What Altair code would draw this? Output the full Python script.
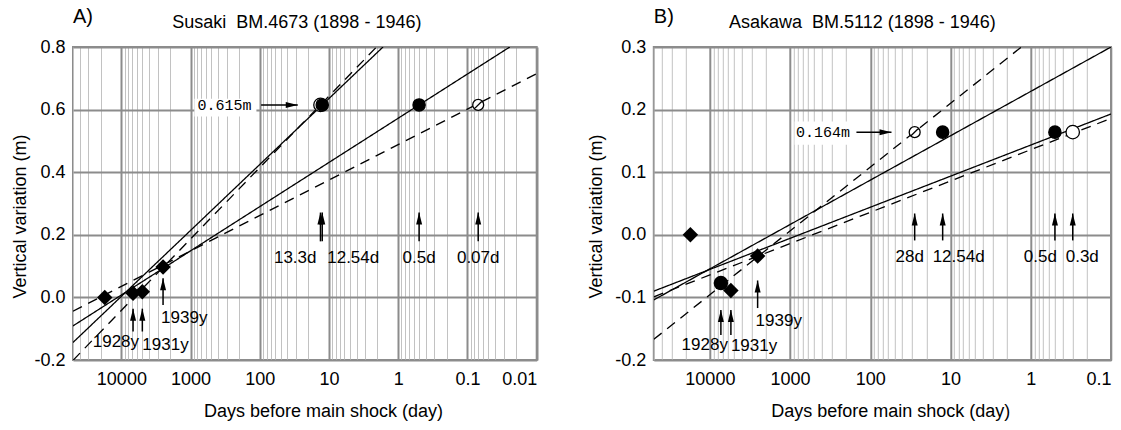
import altair as alt
import pandas as pd

FONT = "'Liberation Sans Narrow', 'Arial Narrow', 'Liberation Sans', sans-serif"
MONO = "'Liberation Mono', 'DejaVu Sans Mono', monospace"

# ---------------- Susaki BM.4673 ----------------
susaki_survey_days = [17400, 6780, 4980, 2500]
susaki_survey_dv = [0.0, 0.013, 0.018, 0.097]
susaki_survey_shape = ["diamond", "diamond", "diamond", "diamond"]

susaki_pre_days = [13.3, 12.54, 0.5, 0.07]
susaki_pre_dv = [0.615, 0.615, 0.615, 0.615]
susaki_pre_kind = ["open", "filled", "filled", "slashed"]

# trend lines (end points)
susaki_line_id = ["a", "a", "b", "b", "c", "c", "d", "d"]
susaki_line_style = ["solid", "solid", "solid", "solid", "dashed", "dashed", "dashed", "dashed"]
susaki_line_days = [50000, 1.66, 50000, 0.0245, 50000, 2.06, 50000, 0.01]
susaki_line_dv = [-0.144, 0.80, -0.091, 0.80, -0.201, 0.80, -0.044, 0.715]

susaki_day_labels = ["13.3d", "12.54d", "0.5d", "0.07d"]
susaki_day_marks = [13.3, 12.54, 0.5, 0.07]
susaki_day_arrow = [0.179, 0.271]          # tail, tip
susaki_day_text_level = 0.127

susaki_year_labels = ["1928y", "1931y", "1939y"]
susaki_year_marks = [6780, 4980, 2500]
susaki_year_tail = [-0.109, -0.109, -0.024]
susaki_year_tip = [-0.036, -0.036, 0.061]
susaki_year_text_level = [-0.141, -0.151, -0.066]

susaki_level_text = "0.615m"
susaki_level_arrow = [95.9, 28.3]          # tail, tip (days)
susaki_level_text_at = 132
susaki_level_box = [881, 112, 0.578, 0.635]

# ---------------- Asakawa BM.5112 ----------------
asakawa_survey_days = [17500, 7290, 5470, 2540]
asakawa_survey_dv = [0.0, -0.077, -0.089, -0.034]
asakawa_survey_shape = ["diamond", "circle", "diamond", "diamond"]

asakawa_pre_days = [28, 12.54, 0.5, 0.3]
asakawa_pre_dv = [0.164, 0.164, 0.164, 0.164]
asakawa_pre_kind = ["slashed", "filled", "filled", "open"]

asakawa_line_id = ["a", "a", "b", "b", "c", "c", "d", "d"]
asakawa_line_style = ["solid", "solid", "solid", "solid", "dashed", "dashed", "dashed", "dashed"]
asakawa_line_days = [50000, 0.1, 50000, 0.1, 50000, 0.1, 50000, 1.31]
asakawa_line_dv = [-0.104, 0.300, -0.090, 0.193, -0.099, 0.186, -0.167, 0.300]

asakawa_day_labels = ["28d", "12.54d", "0.5d", "0.3d"]
asakawa_day_marks = [28, 12.54, 0.5, 0.3]
asakawa_day_arrow = [-0.009, 0.034]
asakawa_day_text_level = -0.036

asakawa_year_labels = ["1928y", "1931y", "1939y"]
asakawa_year_marks = [7290, 5470, 2540]
asakawa_year_tail = [-0.160, -0.160, -0.117]
asakawa_year_tip = [-0.120, -0.120, -0.073]
asakawa_year_text_level = [-0.176, -0.178, -0.138]

asakawa_level_text = "0.164m"
asakawa_level_arrow = [149, 54.5]
asakawa_level_text_at = 179
asakawa_level_box = [879, 161, 0.144, 0.181]

# label placement (alignment, pixel nudge)
susaki_label_style = {"13.3d": ("right", -4), "12.54d": ("left", 5), "0.5d": ("center", 0),
                      "0.07d": ("center", 0), "1928y": ("right", 6), "1931y": ("left", 0),
                      "1939y": ("left", -2)}
asakawa_label_style = {"28d": ("center", -5), "12.54d": ("left", -10), "0.5d": ("right", 2),
                       "0.3d": ("left", -7), "1928y": ("right", 7), "1931y": ("left", 0),
                       "1939y": ("left", -2)}

ARROW_UP = "M0,0L0.5,2L-0.5,2Z"
ARROW_RIGHT = "M0,0L-2,-0.5L-2,0.5Z"
SLASHED = "M-1,0A1,1,0,1,1,1,0A1,1,0,1,1,-1,0ZM-0.72,0.72L0.72,-0.72"

DECADE_TEST = "abs(log(datum.value)/LN10 - round(log(datum.value)/LN10)) < 1e-6"


def grid_values(lo_exp, hi_exp, top):
    vals = []
    for e in range(lo_exp, hi_exp + 1):
        for k in range(1, 10):
            v = float(f"{k}e{e}")
            if v <= top:
                vals.append(v)
    return vals


def panel(letter, title, xdom, ydom, yvals, width, height, d, style, title_dx, xtitle_x, ytitle_x):
    x_axis = alt.Axis(
        values=grid_values(-2, 4, xdom[1]), ticks=False, domain=False,
        labelExpr=f"{DECADE_TEST} ? toString(datum.value) : ''",
        labelPadding=10, labelFlush=True, labelOverlap=False,
        gridColor={"condition": {"test": DECADE_TEST, "value": "#8c8c8c"}, "value": "#c2c2c2"},
        gridWidth={"condition": {"test": DECADE_TEST, "value": 2}, "value": 1},
        title="Days before main shock (day)", titleX=xtitle_x, titleY=51.5,
        titleBaseline="middle", titleAlign="center",
    )
    y_axis = alt.Axis(
        values=yvals, ticks=False, domain=False, labelPadding=8,
        labelExpr="replace(format(datum.value, '.1f'), '\u2212', '-')",
        gridColor="#8c8c8c", gridWidth=2,
        title="Vertical variation (m)", titleAngle=270, titleBaseline="middle",
        titleAlign="center", titleX=ytitle_x, titleY=169,
    )
    xs = alt.Scale(type="log", domain=list(xdom), reverse=True, nice=False)
    ys = alt.Scale(domain=list(ydom), nice=False, zero=False)
    X = lambda f: alt.X(f"{f}:Q", scale=xs, axis=x_axis)
    Y = lambda f: alt.Y(f"{f}:Q", scale=ys, axis=y_axis)

    lines = pd.DataFrame({"t": d["line_days"], "v": d["line_dv"], "id": d["line_id"], "style": d["line_style"]})
    survey = pd.DataFrame({"t": d["survey_days"], "v": d["survey_dv"], "shape": d["survey_shape"]})
    pre = pd.DataFrame({"t": d["pre_days"], "v": d["pre_dv"], "kind": d["pre_kind"]})
    day_arrows = pd.DataFrame({"t": d["day_marks"], "tail": d["day_arrow"][0], "tip": d["day_arrow"][1],
                               "label": d["day_labels"], "lv": d["day_text_level"]})
    year_arrows = pd.DataFrame({"t": d["year_marks"], "tail": d["year_tail"], "tip": d["year_tip"],
                                "label": d["year_labels"], "lv": d["year_text_level"]})
    arrows = pd.concat([day_arrows, year_arrows], ignore_index=True)
    lvl = pd.DataFrame({"t": [d["level_arrow"][0]], "t2": [d["level_arrow"][1]],
                        "v": [d["pre_dv"][0]], "txt_t": [d["level_text_at"]], "label": [d["level_text"]]})
    box = pd.DataFrame({"t": [d["level_box"][0]], "t2": [d["level_box"][1]],
                        "v": [d["level_box"][2]], "v2": [d["level_box"][3]]})

    layers = []
    layers.append(alt.Chart(box).mark_rect(color="white", opacity=1).encode(
        x=X("t"), x2="t2:Q", y=Y("v"), y2="v2:Q"))
    layers.append(alt.Chart(lines).mark_line(color="black", strokeWidth=1.3, clip=True).encode(
        x=X("t"), y=Y("v"), detail="id:N",
        strokeDash=alt.StrokeDash("style:N", scale=alt.Scale(domain=["solid", "dashed"], range=[[1, 0], [10, 7]]),
                                  legend=None)))
    layers.append(alt.Chart(survey).mark_point(filled=True, color="black", opacity=1).encode(
        x=X("t"), y=Y("v"),
        shape=alt.Shape("shape:N", scale=None),
        size=alt.Size("shape:N", scale=alt.Scale(domain=["diamond", "circle"], range=[240, 120]), legend=None)))
    layers.append(alt.Chart(pre).mark_point(filled=True, stroke="black", strokeWidth=1.3, opacity=1).encode(
        x=X("t"), y=Y("v"),
        shape=alt.Shape("kind:N", scale=alt.Scale(domain=["open", "filled", "slashed"],
                                                  range=["circle", "circle", SLASHED]), legend=None),
        fill=alt.Fill("kind:N", scale=alt.Scale(domain=["open", "filled", "slashed"],
                                                range=["white", "black", "white"]), legend=None),
        size=alt.Size("kind:N", scale=alt.Scale(domain=["open", "filled", "slashed"],
                                                range=[140, 100, 165]), legend=None)))
    # vertical arrows
    layers.append(alt.Chart(arrows).mark_rule(color="black", strokeWidth=1.5).encode(
        x=X("t"), y=Y("tail"), y2="tip:Q"))
    layers.append(alt.Chart(arrows).mark_point(shape=ARROW_UP, size=144, filled=True, color="black",
                                               opacity=1).encode(x=X("t"), y=Y("tip")))
    # horizontal arrow to the precursory level
    layers.append(alt.Chart(lvl).mark_rule(color="black", strokeWidth=1.5).encode(
        x=X("t"), x2="t2:Q", y=Y("v")))
    layers.append(alt.Chart(lvl).mark_point(shape=ARROW_RIGHT, size=144, filled=True, color="black",
                                            opacity=1).encode(x=X("t2"), y=Y("v")))
    layers.append(alt.Chart(lvl).mark_text(font=MONO, fontSize=15, align="right", baseline="middle",
                                           color="black").encode(x=X("txt_t"), y=Y("v"), text="label:N"))
    # arrow captions
    for lab, (al, dx) in style.items():
        row = arrows[arrows["label"] == lab]
        if row.empty:
            continue
        layers.append(alt.Chart(row).mark_text(font=FONT, fontSize=17, align=al, dx=dx, baseline="middle",
                                               color="black").encode(x=X("t"), y=Y("lv"), text="label:N"))
    # panel letter and heading
    head = pd.DataFrame({"txt": [title]})
    layers.append(alt.Chart(pd.DataFrame({"txt": [letter]})).mark_text(
        font=FONT, fontSize=20, align="left", baseline="middle", color="black").encode(
        x=alt.value(0), y=alt.value(-30.5), text="txt:N"))
    layers.append(alt.Chart(head).mark_text(
        font=FONT, fontSize=18, align="center", baseline="middle", color="black").encode(
        x=alt.value(width / 2 + title_dx), y=alt.value(-24), text="txt:N"))
    return alt.layer(*layers).properties(width=width, height=height)


susaki = dict(survey_days=susaki_survey_days, survey_dv=susaki_survey_dv, survey_shape=susaki_survey_shape,
              pre_days=susaki_pre_days, pre_dv=susaki_pre_dv, pre_kind=susaki_pre_kind,
              line_id=susaki_line_id, line_style=susaki_line_style, line_days=susaki_line_days,
              line_dv=susaki_line_dv, day_labels=susaki_day_labels, day_marks=susaki_day_marks,
              day_arrow=susaki_day_arrow, day_text_level=susaki_day_text_level,
              year_labels=susaki_year_labels, year_marks=susaki_year_marks, year_tail=susaki_year_tail,
              year_tip=susaki_year_tip, year_text_level=susaki_year_text_level,
              level_text=susaki_level_text, level_arrow=susaki_level_arrow,
              level_text_at=susaki_level_text_at, level_box=susaki_level_box)
asakawa = dict(survey_days=asakawa_survey_days, survey_dv=asakawa_survey_dv, survey_shape=asakawa_survey_shape,
               pre_days=asakawa_pre_days, pre_dv=asakawa_pre_dv, pre_kind=asakawa_pre_kind,
               line_id=asakawa_line_id, line_style=asakawa_line_style, line_days=asakawa_line_days,
               line_dv=asakawa_line_dv, day_labels=asakawa_day_labels, day_marks=asakawa_day_marks,
               day_arrow=asakawa_day_arrow, day_text_level=asakawa_day_text_level,
               year_labels=asakawa_year_labels, year_marks=asakawa_year_marks, year_tail=asakawa_year_tail,
               year_tip=asakawa_year_tip, year_text_level=asakawa_year_text_level,
               level_text=asakawa_level_text, level_arrow=asakawa_level_arrow,
               level_text_at=asakawa_level_text_at, level_box=asakawa_level_box)

left = panel("A)", "Susaki\u00a0\u00a0BM.4673 (1898 - 1946)", (0.01, 50000), (-0.2, 0.8),
             [-0.2, 0.0, 0.2, 0.4, 0.6, 0.8], 463.7, 313, susaki, susaki_label_style,
             -8, 250, -52.9)
right = panel("B)", "Asakawa\u00a0\u00a0BM.5112 (1898 - 1946)", (0.1, 50000), (-0.2, 0.3),
              [-0.2, -0.1, 0.0, 0.1, 0.2, 0.3], 457.2, 313, asakawa, asakawa_label_style,
              -20, 236.4, -57.4)

chart = alt.hconcat(left, right, spacing=116.8, bounds="flush").properties(
    padding={"left": 10, "top": 5, "right": 5, "bottom": 5}
).configure_view(stroke="#8c8c8c", strokeWidth=2).configure_axis(
    labelFont=FONT, titleFont=FONT, labelFontSize=18, titleFontSize=18,
    titleFontWeight="normal", labelColor="black", titleColor="black"
)

chart.save("out.html", embed_options={"renderer": "svg", "actions": False})
